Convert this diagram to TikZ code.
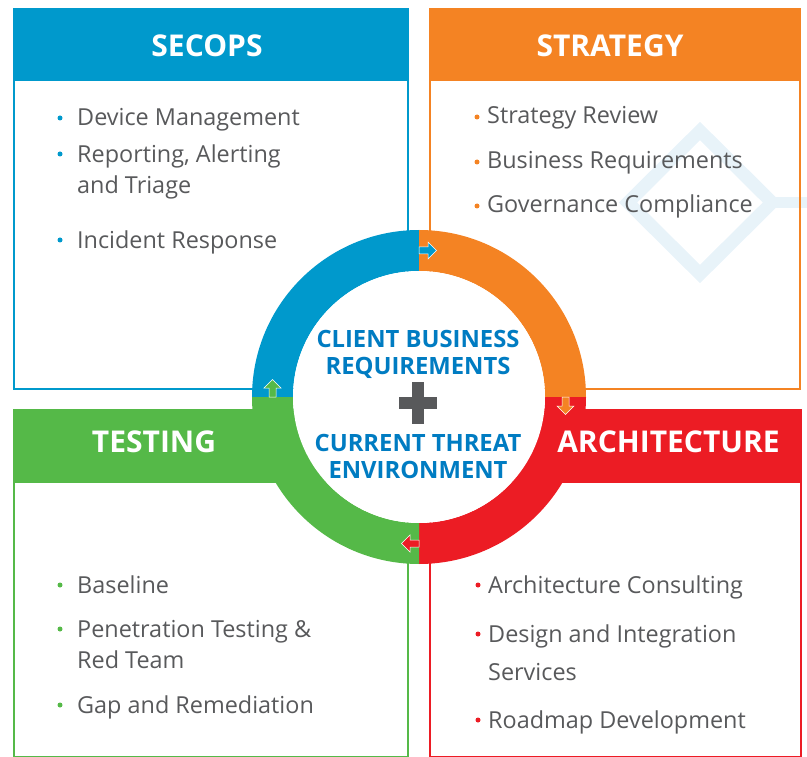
\documentclass[tikz,border=0pt]{standalone}
\usepackage{fontspec}
\setmainfont{Open Sans}
\usepackage{tikz}
\usetikzlibrary{positioning}

\definecolor{secblue}{RGB}{0,153,204}
\definecolor{stratorange}{RGB}{244,131,35}
\definecolor{archred}{RGB}{236,28,36}
\definecolor{testgreen}{RGB}{85,185,72}
\definecolor{textgray}{RGB}{88,89,91}
\definecolor{coreblue}{RGB}{0,124,194}
\definecolor{markpale}{RGB}{232,243,249}

\tikzset{
  head/.style={anchor=base,inner sep=0pt,text=white,font=\fontsize{30}{36}\selectfont\bfseries},
  item/.style={anchor=base west,inner sep=0pt,align=left,text=textgray,font=\fontsize{23.4}{32}\selectfont},
  core/.style={inner sep=0pt,align=center,text=coreblue,font=\fontsize{23.8}{27}\selectfont\bfseries},
  frame/.style={line width=2pt}
}

\begin{document}
\begin{tikzpicture}[x=1pt,y=-1pt]

  \useasboundingbox (0,0) rectangle (807,757);

  % Watermark
  \draw [markpale,line width=13pt] (700,131) -- (772,202.5) -- (700,274) -- (628,202.5) -- cycle;
  \draw [markpale,line width=11pt] (772,202.5) -- (807,202.5);

  % SecOps
  \draw [secblue,frame] (13.5,80) rectangle (407.5,388.5);
  \fill [secblue] (12.5,8) rectangle (408.5,81);

  % Strategy
  \draw [stratorange,frame] (429.5,80) rectangle (800,388.5);
  \fill [stratorange] (428.5,8) rectangle (801,81);

  % Testing
  \draw [testgreen,frame] (13.5,482) rectangle (407.5,756.5);
  \fill [testgreen] (12.5,409) rectangle (419,482.5);

  % Architecture
  \draw [archred,frame] (429.5,482) rectangle (800.5,756.5);
  \fill [archred] (419,409) rectangle (802,482.5);

  % Ring
  \begin{scope}[shift={(419,397)}]
    \foreach \a/\c in {180/secblue,270/stratorange,0/archred,90/testgreen}
      \fill [\c] (\a:167) arc [start angle=\a,end angle=\a+90,radius=167]
        -- (\a+90:126) arc [start angle=\a+90,end angle=\a,radius=126] -- cycle;
    \fill [white] (0,0) circle (126);
    \foreach \a/\c in {270/secblue,0/stratorange,90/archred,180/testgreen}
      \filldraw [fill=\c,draw=white,line width=0.5pt,shift={(\a:146.5)},rotate=270-\a]
        (0,-3.5) -- (9,-3.5) -- (9,-8.5) -- (17.5,0) -- (9,8.5) -- (9,3.5) -- (0,3.5) -- cycle;
  \end{scope}

  % Headers
  \node [head] (secops) at (207,57) {SECOPS};
  \node [head] (strategy) at (610,57) {STRATEGY};
  \node [head] (testing) at (154,452) {TESTING};
  \node [head] (architecture) at (668.5,452) {ARCHITECTURE};

  % Centre
  \node [coordinate] (plus) at (418,403) {};
  \fill [textgray] (399,397) rectangle (437,409);
  \fill [textgray] (412,382) rectangle (424,424);
  \node [core,above=24pt of plus] (client) {CLIENT BUSINESS\\REQUIREMENTS};
  \node [core,below=31pt of plus] (threat) {CURRENT THREAT\\ENVIRONMENT};

  % Items
  \node [item] (device) at (77,126) {Device Management};
  \node [item] (reporting) at (77,194) {Reporting, Alerting\\and Triage};
  \node [item] (incident) at (77,248) {Incident Response};

  \node [item] (review) at (487,124) {Strategy Review};
  \node [item] (business) at (487,169) {Business Requirements};
  \node [item] (governance) at (487,213) {Governance Compliance};

  \node [item] (baseline) at (77,593) {Baseline};
  \node [item,font=\fontsize{23.4}{31}\selectfont] (pentest) at (77,668) {Penetration Testing \&\\Red Team};
  \node [item] (gap) at (77,713) {Gap and Remediation};

  \node [item] (consulting) at (488,593) {Architecture Consulting};
  \node [item,font=\fontsize{23.4}{38}\selectfont] (design) at (488,680) {Design and Integration\\Services};
  \node [item] (roadmap) at (488,728) {Roadmap Development};

  % Bullets
  \foreach \n/\s in {device/8,reporting/40,incident/8}
    \fill [secblue] ([xshift=-17pt,yshift=\s pt]\n.base west) circle (2.5);
  \foreach \n/\s in {review/7,business/7,governance/7}
    \fill [stratorange] ([xshift=-10pt,yshift=\s pt]\n.base west) circle (2.5);
  \foreach \n/\s in {baseline/8,pentest/39,gap/8}
    \fill [testgreen] ([xshift=-17pt,yshift=\s pt]\n.base west) circle (2.5);
  \foreach \n/\s in {consulting/8,design/46,roadmap/8}
    \fill [archred] ([xshift=-10pt,yshift=\s pt]\n.base west) circle (2.5);

\end{tikzpicture}
\end{document}
